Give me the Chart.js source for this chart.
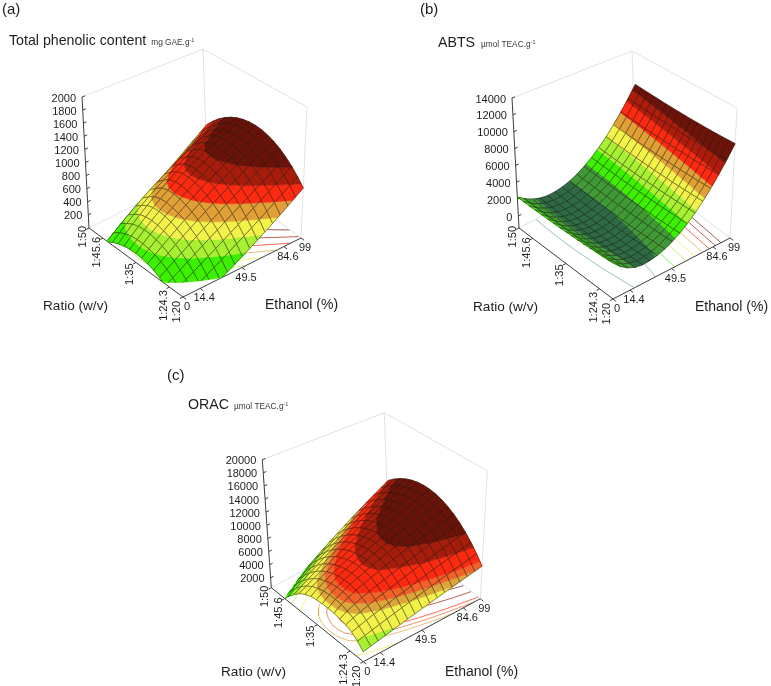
<!DOCTYPE html>
<html>
<head>
<title>Response surfaces</title>
<script src="https://cdn.jsdelivr.net/npm/chart.js"></script>
<style>
  html, body { margin: 0; padding: 0; background: #fff; }
  canvas { display: block; }
</style>
</head>
<body>
<canvas id="surfaces" width="771" height="686"></canvas>
<script>
// axis ticks
var ethanolTicks = [0, 14.4, 49.5, 84.6, 99];
var ethanolLabels = ['0', '14.4', '49.5', '84.6', '99'];
var ratioTicks = [20, 24.3, 35, 45.6, 50];
var ratioLabels = ['1:20', '1:24.3', '1:35', '1:45.6', '1:50'];
var tpcTicks = [200, 400, 600, 800, 1000, 1200, 1400, 1600, 1800, 2000];
var abtsTicks = [0, 2000, 4000, 6000, 8000, 10000, 12000, 14000];
var oracTicks = [2000, 4000, 6000, 8000, 10000, 12000, 14000, 16000, 18000, 20000];

// grid positions of the surface mesh
var ethanolGrid = [0, 6.19, 12.38, 18.56, 24.75, 30.94, 37.13, 43.31, 49.5, 55.69, 61.88, 68.06, 74.25, 80.44, 86.63, 92.81, 99];
var ratioGrid = [20, 21.875, 23.75, 25.625, 27.5, 29.375, 31.25, 33.125, 35, 36.875, 38.75, 40.625, 42.5, 44.375, 46.25, 48.125, 50];

// colour band limits
var tpcLevels = [200, 350, 500, 650, 800, 950];
var abtsLevels = [1000, 2000, 3000, 4000, 5000, 6000, 7000, 8000];
var oracLevels = [1800, 3100, 4700, 5300, 5900, 7200, 8400];

// one row per ratio (1:20 first), one value per ethanol step
var tpcSurface = [
  [-276,-229,-179,-127,-72,-16,43,104,169,235,303,374,447,522,601,681,763],
  [-180,-127,-72,-16,43,103,164,228,292,359,427,496,568,641,716,792,870],
  [-96,-38,22,83,145,208,271,336,401,468,535,604,674,744,815,888,961],
  [-25,39,104,169,234,299,365,431,497,564,631,698,766,833,901,970,1038],
  [33,103,172,241,309,378,445,512,579,646,712,777,843,908,972,1036,1100],
  [79,154,227,301,373,443,512,581,648,715,779,844,906,969,1029,1089,1147],
  [112,192,270,347,422,495,566,635,703,769,833,895,955,1014,1071,1126,1179],
  [132,217,300,380,457,533,605,675,743,809,871,931,990,1045,1097,1148,1196],
  [140,230,317,400,481,557,631,702,770,835,896,954,1009,1061,1110,1155,1198],
  [135,229,320,407,490,569,644,716,783,847,906,962,1015,1063,1108,1148,1185],
  [117,214,307,396,481,560,636,708,775,838,896,950,1001,1046,1088,1125,1158],
  [87,184,275,364,448,527,602,673,740,801,859,913,962,1007,1048,1085,1116],
  [44,134,220,303,382,458,530,599,664,726,784,838,890,935,979,1021,1059],
  [-11,72,152,229,304,376,445,511,575,636,694,750,802,853,900,944,986],
  [-200,-120,-41,37,113,186,260,331,400,468,535,600,663,724,785,843,900],
  [-390,-310,-231,-152,-74,3,79,154,229,303,376,448,520,590,660,730,798],
  [-560,-482,-405,-327,-250,-172,-94,-17,61,138,216,294,371,449,526,604,681]
];
var abtsSurface = [
  [2836,1986,1369,984,831,873,1044,1343,1769,2322,3004,3813,4749,5813,7005,8324,9771],
  [2764,1926,1317,936,782,821,989,1285,1707,2256,2933,3736,4667,5724,6910,8221,9661],
  [2697,1871,1269,892,738,774,939,1231,1649,2193,2865,3664,4588,5640,6818,8123,9555],
  [2635,1821,1228,853,699,732,894,1183,1597,2137,2804,3597,4516,5561,6733,8030,9454],
  [2576,1775,1189,818,663,694,853,1138,1548,2083,2746,3534,4446,5486,6650,7941,9357],
  [2523,1734,1156,789,633,661,817,1098,1505,2036,2693,3476,4383,5416,6574,7857,9266],
  [2475,1697,1127,764,607,632,785,1063,1466,1993,2645,3422,4324,5350,6502,7777,9179],
  [2431,1666,1103,744,587,609,759,1033,1432,1954,2602,3374,4269,5290,6434,7703,9097],
  [2392,1639,1085,728,571,590,737,1008,1403,1921,2564,3330,4220,5234,6372,7633,9019],
  [2358,1617,1070,717,559,576,720,987,1378,1891,2529,3291,4174,5183,6313,7568,8946],
  [2328,1599,1060,711,552,566,707,971,1358,1867,2500,3256,4134,5136,6260,7507,8878],
  [2303,1586,1055,710,551,561,699,960,1343,1848,2476,3226,4099,5094,6212,7451,8815],
  [2283,1578,1054,713,553,561,696,953,1332,1832,2455,3201,4067,5057,6167,7400,8756],
  [2268,1575,1060,721,561,566,698,952,1327,1823,2441,3181,4042,5025,6129,7354,8702],
  [2256,1576,1068,733,572,575,704,954,1325,1816,2430,3165,4019,4997,6093,7312,8652],
  [2250,1582,1082,751,590,589,715,961,1329,1816,2424,3154,4003,4974,6064,7275,8608],
  [2249,1592,1100,773,611,608,731,974,1337,1820,2423,3147,3991,4955,6039,7243,8568]
];
var oracSurface = [
  [2013,2247,2477,2707,2934,3158,3380,3599,3817,4032,4244,4454,4661,4867,5069,5271,5468],
  [2913,3172,3427,3679,3927,4172,4413,4650,4883,5115,5341,5564,5784,6000,6211,6422,6626],
  [3600,3900,4200,4492,4763,5031,5293,5549,5801,6049,6292,6530,6762,6991,7214,7435,7648],
  [4000,4440,4800,5149,5444,5732,6015,6291,6563,6828,7087,7340,7587,7829,8063,8293,8516],
  [4200,4800,5250,5652,5974,6287,6593,6892,7185,7469,7747,8018,8281,8537,8786,9029,9263],
  [4350,5100,5600,6069,6432,6783,7122,7449,7764,8068,8359,8639,8906,9162,9405,9638,9857],
  [4400,5180,5740,6236,6622,6995,7357,7706,8043,8369,8683,8985,9275,9552,9818,10073,10315],
  [4380,5180,5730,6248,6657,7054,7440,7812,8174,8523,8861,9187,9500,9802,10091,10370,10635],
  [4300,5000,5570,6106,6541,6962,7372,7770,8156,8531,8893,9243,9582,9908,10223,10526,10817],
  [4100,4720,5280,5808,6269,6717,7153,7577,7990,8391,8780,9157,9522,9875,10216,10546,10863],
  [3700,4300,4840,5354,5842,6317,6780,7231,7671,8098,8514,8918,9309,9689,10057,10414,10757],
  [3121,3673,4213,4742,5259,5763,6256,6736,7206,7663,8108,8541,8962,9372,9769,10155,10528],
  [2268,2850,3419,3977,4524,5058,5580,6090,6589,7075,7550,8013,8463,8902,9329,9745,10147],
  [1254,1867,2467,3056,3634,4199,4752,5293,5823,6340,6846,7340,7821,8291,8749,9196,9629],
  [73,719,1352,1974,2584,3182,3768,4342,4904,5455,5993,6520,7034,7537,8027,8507,8973],
  [-1253,-574,93,748,1392,2023,2642,3249,3845,4429,5001,5561,6109,6645,7169,7682,8181],
  [-2746,-2032,-1330,-640,39,706,1361,2003,2634,3253,3860,4455,5038,5609,6168,6717,7251]
];

var tpcColors = ['#3cf000', '#a8f032', '#f2f24a', '#e0a035', '#fb2a10', '#a81c0b', '#691208'];
var abtsColors = ['#2e6b45', '#3f9a35', '#3cf000', '#a8f032', '#f2f24a', '#e0a035', '#fb2a10', '#b01c0b', '#6e1309'];
var oracColors = ['#3cf000', '#a8f032', '#f2f24a', '#dca63a', '#f0622a', '#fb2a10', '#a81c0b', '#691208'];

// panel geometry: front corner, floor edges, height of the box
var panels = [
  { surface: tpcSurface, levels: tpcLevels, colors: tpcColors, zTicks: tpcTicks, zMin: 0, zMax: 2000,
    origin: [183, 297], eVec: [118, -59], rVec: [-94, -69], zLen: 131, shrink: 11, lean: [-7, 6, -4], contourFrom: 0,
    tag: '(a)', tagPos: [2, 10], title: 'Total phenolic content', titlePos: [9, 41], unit: 'mg GAE.g', unitGap: 5,
    ratioPos: [43, 306], ethanolPos: [265, 305] },
  { surface: abtsSurface, levels: abtsLevels, colors: abtsColors, zTicks: abtsTicks, zMin: -1420, zMax: 14000,
    origin: [613, 299], eVec: [117, -61], rVec: [-94, -71], zLen: 130, shrink: 14, lean: [-7, 7, -4], contourFrom: 1,
    tag: '(b)', tagPos: [420, 10], title: 'ABTS', titlePos: [438, 43], unit: '\u00b5mol TEAC.g', unitGap: 6,
    ratioPos: [473, 307], ethanolPos: [695, 307] },
  { surface: oracSurface, levels: oracLevels, colors: oracColors, zTicks: oracTicks, zMin: 500, zMax: 20000,
    origin: [363.3, 661.7], eVec: [117, -63], rVec: [-92, -74], zLen: 128, shrink: 16, lean: [-9, 7, -4], contourFrom: 0,
    tag: '(c)', tagPos: [167, 376], title: 'ORAC', titlePos: [188, 405], unit: '\u00b5mol TEAC.g', unitGap: 5,
    ratioPos: [221, 672], ethanolPos: [445, 672] }
];

function project(p, e, r, z) {
  var eN = e / 99, rN = (r - 20) / 30, zN = (z - p.zMin) / (p.zMax - p.zMin);
  var far = zN * zN * zN * zN; // the back corner only narrows near the top of the box
  var lean = p.lean[0] * rN * (1 - eN) * zN + p.lean[1] * eN * (1 - rN) * zN + p.lean[2] * eN * rN * far;
  var len = p.zLen - p.shrink * eN * rN * far;
  return {
    x: p.origin[0] + eN * p.eVec[0] + rN * p.rVec[0] + lean,
    y: p.origin[1] + eN * p.eVec[1] + rN * p.rVec[1] - zN * len
  };
}

var gap = { x: NaN, y: NaN };
var datasets = [];

function addLine(pts, color, width) {
  datasets.push({ data: pts, showLine: true, borderColor: color, borderWidth: width, pointRadius: 0, fill: false, tension: 0 });
}
function addFill(pts, color) {
  datasets.push({ data: pts.concat([pts[0]]), showLine: true, borderColor: color, borderWidth: 0.6, backgroundColor: color, pointRadius: 0, fill: 'shape', tension: 0 });
}

// keep the part of a polygon on one side of a height
function clipPoly(poly, level, above) {
  var out = [];
  for (var i = 0; i < poly.length; i++) {
    var a = poly[i], b = poly[(i + 1) % poly.length];
    var aIn = above ? a[2] >= level : a[2] <= level;
    var bIn = above ? b[2] >= level : b[2] <= level;
    if (aIn) out.push(a);
    if (aIn !== bIn) {
      var t = (level - a[2]) / (b[2] - a[2]);
      out.push([a[0] + t * (b[0] - a[0]), a[1] + t * (b[1] - a[1]), level]);
    }
  }
  return out;
}

function addContours(p) {
  p.levels.forEach(function (lv, k) {
    var pts = [];
    for (var j = 0; j < 16; j++) {
      for (var i = p.contourFrom; i < 16; i++) {
        var c = [[ethanolGrid[i], ratioGrid[j], p.surface[j][i]], [ethanolGrid[i + 1], ratioGrid[j], p.surface[j][i + 1]],
                 [ethanolGrid[i + 1], ratioGrid[j + 1], p.surface[j + 1][i + 1]], [ethanolGrid[i], ratioGrid[j + 1], p.surface[j + 1][i]]];
        var hits = [];
        for (var n = 0; n < 4; n++) {
          var a = c[n], b = c[(n + 1) % 4];
          if ((a[2] < lv) !== (b[2] < lv)) {
            var t = (lv - a[2]) / (b[2] - a[2]);
            hits.push(project(p, a[0] + t * (b[0] - a[0]), a[1] + t * (b[1] - a[1]), p.zMin));
          }
        }
        if (hits.length >= 2) pts.push(hits[0], hits[1], gap);
      }
    }
    var col = p.colors === abtsColors && k === 0 ? '#6aa6a0' : p.colors[k + 1];
    addLine(pts, col, 0.7);
  });
}

function addBox(p) {
  var grey = '#e2e2e2', dark = '#3c3c3c';
  addLine([project(p, 0, 50, p.zMax), project(p, 99, 50, p.zMax), project(p, 99, 20, p.zMax)], grey, 1);
  addLine([project(p, 99, 50, p.zMax), project(p, 99, 50, p.zMin)], grey, 1);
  addLine([project(p, 99, 20, p.zMax), project(p, 99, 20, p.zMin)], grey, 1);
  addLine([project(p, 0, 50, p.zMin), project(p, 99, 50, p.zMin), project(p, 99, 20, p.zMin)], grey, 1);
  addLine([project(p, 0, 50, p.zMin), project(p, 0, 50, p.zMax)], dark, 1);
  addLine([project(p, 0, 50, p.zMin), project(p, 0, 20, p.zMin), project(p, 99, 20, p.zMin)], dark, 1);
  p.zTicks.forEach(function (z) {
    addLine([project(p, 0, 50, z), project(p, 2.5, 50, z)], dark, 1);
  });
  ratioTicks.forEach(function (r) {
    addLine([project(p, 0, r, p.zMin), project(p, -2.5, r, p.zMin)], dark, 1);
  });
  ethanolTicks.forEach(function (e) {
    addLine([project(p, e, 20, p.zMin), project(p, e, 19, p.zMin)], dark, 1);
  });
}

function addSurface(p) {
  // back corner first, front corner last
  for (var j = 15; j >= 0; j--) {
    for (var i = 15; i >= 0; i--) {
      var cell = [[ethanolGrid[i], ratioGrid[j], p.surface[j][i]], [ethanolGrid[i + 1], ratioGrid[j], p.surface[j][i + 1]],
                  [ethanolGrid[i + 1], ratioGrid[j + 1], p.surface[j + 1][i + 1]], [ethanolGrid[i], ratioGrid[j + 1], p.surface[j + 1][i]]];
      var rest = clipPoly(cell, p.zMin, true);
      if (rest.length < 3) continue;
      for (var k = 0; k < p.colors.length; k++) {
        var band = rest;
        if (k > 0) band = clipPoly(band, p.levels[k - 1], true);
        if (k < p.levels.length && band.length) band = clipPoly(band, p.levels[k], false);
        if (band.length >= 3) {
          addFill(band.map(function (q) { return project(p, q[0], q[1], q[2]); }), p.colors[k]);
        }
      }
      var mesh = [];
      for (var n = 0; n < 4; n++) {
        var a = cell[n], b = cell[(n + 1) % 4];
        if (a[2] < p.zMin && b[2] < p.zMin) continue;
        var t = (p.zMin - a[2]) / (b[2] - a[2]);
        if (a[2] < p.zMin) a = [a[0] + t * (b[0] - a[0]), a[1] + t * (b[1] - a[1]), p.zMin];
        else if (b[2] < p.zMin) b = [a[0] + t * (b[0] - a[0]), a[1] + t * (b[1] - a[1]), p.zMin];
        mesh.push(project(p, a[0], a[1], a[2]), project(p, b[0], b[1], b[2]), gap);
      }
      addLine(mesh, 'rgba(25,22,10,0.68)', 0.7);
    }
  }
}

panels.forEach(function (p) {
  addContours(p);
  addBox(p);
  addSurface(p);
});
// chart.js paints the first dataset on top
datasets.reverse();

var textPlugin = {
  id: 'panelText',
  afterDraw: function (chart) {
    var c = chart.ctx, sx = chart.scales.x, sy = chart.scales.y;
    function put(str, x, y, size, align, color, rot) {
      c.save();
      c.font = size + 'px "Liberation Sans", Arial, sans-serif';
      c.fillStyle = color || '#1e1e1e';
      c.textAlign = align || 'left';
      c.textBaseline = 'middle';
      c.translate(sx.getPixelForValue(x), sy.getPixelForValue(y));
      if (rot) c.rotate(rot);
      c.fillText(str, 0, 0);
      var w = c.measureText(str).width;
      c.restore();
      return w;
    }
    panels.forEach(function (p) {
      put(p.tag, p.tagPos[0], p.tagPos[1], 15);
      var w = put(p.title, p.titlePos[0], p.titlePos[1], 14.2);
      var ux = p.titlePos[0] + w + p.unitGap;
      var uw = put(p.unit, ux, p.titlePos[1] + 2, 8.3, 'left', '#3a3a3a');
      put('-1', ux + uw, p.titlePos[1] - 1, 5.5, 'left', '#3a3a3a');
      put('Ratio (w/v)', p.ratioPos[0], p.ratioPos[1], 13.6);
      put('Ethanol (%)', p.ethanolPos[0], p.ethanolPos[1], 14);
      p.zTicks.forEach(function (z) {
        var q = project(p, 0, 50, z);
        put(String(z), q.x - 6, q.y + 1.5, 11, 'right');
      });
      ratioTicks.forEach(function (r, i) {
        var q = project(p, 0, r, p.zMin);
        var rN = (r - 20) / 30;
        put(ratioLabels[i], q.x - 6, q.y + 4 - 6 * rN, 11, 'right', '#1e1e1e', -Math.PI / 2);
      });
      ethanolTicks.forEach(function (e, i) {
        var q = project(p, e, 20, p.zMin);
        put(ethanolLabels[i], q.x + 4, q.y + 10, 11, 'center');
      });
    });
  }
};

new Chart(document.getElementById('surfaces'), {
  type: 'scatter',
  data: { datasets: datasets },
  options: {
    responsive: false,
    animation: false,
    events: [],
    layout: { padding: 0 },
    plugins: { legend: { display: false }, tooltip: { enabled: false } },
    scales: {
      x: { type: 'linear', min: 0, max: 771, display: false },
      y: { type: 'linear', min: 0, max: 686, reverse: true, display: false }
    }
  },
  plugins: [textPlugin]
});
</script>
</body>
</html>
